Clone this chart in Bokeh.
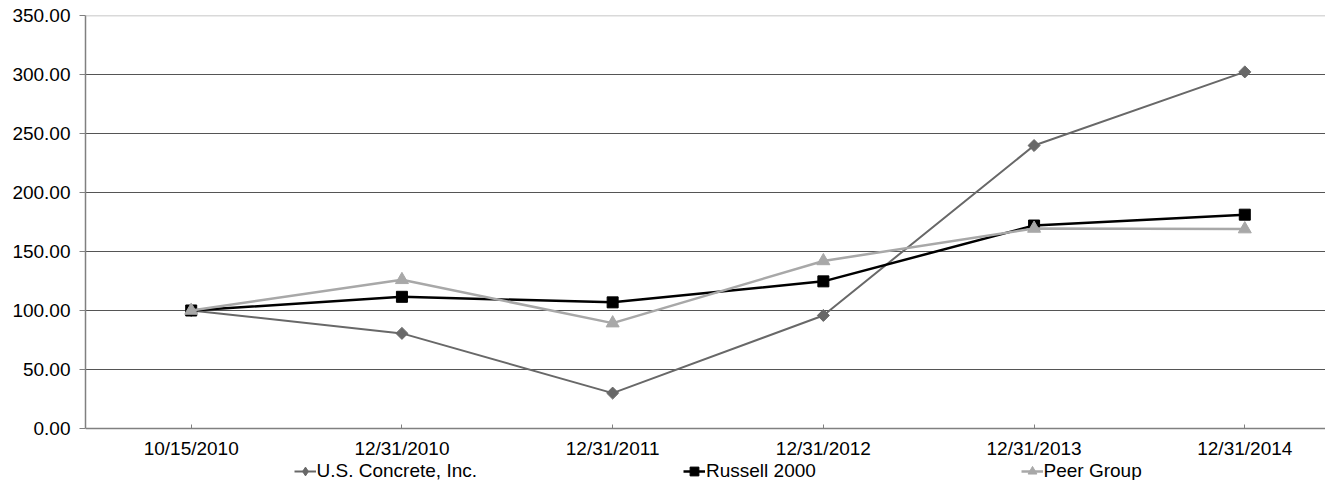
import numpy as np
from bokeh.plotting import figure
from bokeh.models import (FixedTicker, Legend, LegendItem, Range1d, Span,
                          PrintfTickFormatter)
from bokeh.embed import file_html
from bokeh.resources import INLINE

# ---- data ----
dates = ["10/15/2010", "12/31/2010", "12/31/2011", "12/31/2012", "12/31/2013", "12/31/2014"]
us_concrete = [100.00, 80.6, 30.0, 95.8, 239.8, 302.2]
russell_2000 = [100.00, 111.6, 106.9, 124.7, 172.0, 181.2]
peer_group = [100.00, 126.0, 89.3, 142.0, 169.5, 169.0]
y_ticks = [0, 50, 100, 150, 200, 250, 300, 350]

series_names = ["U.S. Concrete, Inc.", "Russell 2000", "Peer Group"]

FONT = "Liberation Sans"
FS = "19px"

x = list(range(len(dates)))

# frame runs to the bottom of the canvas; the x axis is pinned at y = 0
p = figure(width=1325, height=480, output_backend="svg", toolbar_location=None,
           min_border_left=85, min_border_right=0, min_border_top=15, min_border_bottom=0,
           x_range=Range1d(-0.5017, 5.383), y_range=Range1d(-44.07, 350))
p.outline_line_color = None
p.background_fill_color = "white"
p.border_fill_color = "white"

# grid
p.xgrid.visible = False
p.ygrid.ticker = FixedTicker(ticks=y_ticks[1:-1])
p.ygrid.grid_line_color = "#555555"
p.ygrid.grid_line_width = 1.2
p.add_layout(Span(location=y_ticks[-1], dimension="width", line_color="#b4b4b4", line_width=1.5))

# axes
p.yaxis.ticker = FixedTicker(ticks=y_ticks)
p.yaxis.bounds = (y_ticks[0], y_ticks[-1])
p.yaxis.formatter = PrintfTickFormatter(format="%.2f")
p.yaxis.major_tick_out = 6
p.yaxis.major_tick_in = 0
p.yaxis.minor_tick_line_color = None
p.yaxis.major_label_standoff = 9
p.yaxis.axis_line_color = "#808080"
p.yaxis.axis_line_width = 1.5
p.yaxis.major_tick_line_color = "#808080"

p.xaxis.fixed_location = y_ticks[0]
p.xaxis.ticker = FixedTicker(ticks=x)
p.xaxis.major_label_overrides = {i: d for i, d in zip(x, dates)}
p.xaxis.major_tick_out = 0
p.xaxis.major_tick_in = 4
p.xaxis.minor_tick_line_color = None
p.xaxis.major_label_standoff = 10
p.xaxis.axis_line_color = "#808080"
p.xaxis.axis_line_width = 1.5
p.xaxis.major_tick_line_color = "#808080"

for ax in (p.xaxis, p.yaxis):
    ax.major_label_text_font = FONT
    ax.major_label_text_font_size = FS
    ax.major_label_text_color = "black"

# series
c_us, c_r, c_p = "#686868", "#000000", "#a8a8a8"

l1 = p.line(x, us_concrete, line_color=c_us, line_width=2)
m1 = p.scatter(x, us_concrete, marker="square", angle=np.pi / 4, size=8.5,
               fill_color=c_us, line_color=c_us)
# diamond swatch used only by the legend
m1_leg = p.scatter(x, us_concrete, marker="diamond", size=9, fill_color=c_us,
                   line_color=c_us, visible=False)

l2 = p.line(x, russell_2000, line_color=c_r, line_width=2.5)
m2 = p.scatter(x, russell_2000, marker="square", size=11, fill_color=c_r, line_color=c_r)

l3 = p.line(x, peer_group, line_color=c_p, line_width=2.5)
m3 = p.scatter(x, peer_group, marker="triangle", size=13, fill_color=c_p, line_color=c_p)

legend_x = [208.5, 598, 935.5]
for name, rs, lx in zip(series_names, [[l1, m1_leg], [l2, m2], [l3, m3]], legend_x):
    lg = Legend(items=[LegendItem(label=name, renderers=rs)], location=(lx, -2),
                padding=0, margin=0, spacing=0, glyph_width=22, glyph_height=22,
                label_height=16, label_standoff=1, border_line_color=None,
                background_fill_alpha=0, label_text_font=FONT,
                label_text_font_size=FS, label_text_color="black")
    p.add_layout(lg, "center")

open("out.html", "w").write(file_html(p, INLINE))
